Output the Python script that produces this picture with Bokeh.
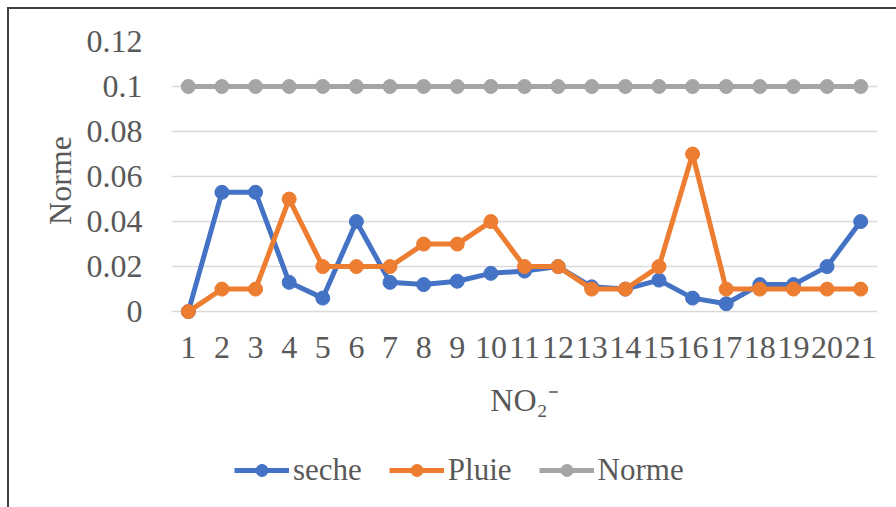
from bokeh.plotting import figure
from bokeh.layouts import column
from bokeh.models import Range1d, FixedTicker, Legend, LegendItem
from bokeh.embed import file_html
from bokeh.resources import INLINE

# Sampling points 1..21
points = list(range(1, 22))
tick_labels = [str(i) for i in points]

# NO2- concentrations
seche = [0.0, 0.053, 0.053, 0.013, 0.006, 0.040, 0.013, 0.012, 0.0135, 0.017, 0.018,
         0.020, 0.011, 0.010, 0.014, 0.006, 0.0035, 0.012, 0.012, 0.020, 0.040]
pluie = [0.0, 0.01, 0.01, 0.05, 0.02, 0.02, 0.02, 0.03, 0.03, 0.04, 0.02,
         0.02, 0.01, 0.01, 0.02, 0.07, 0.01, 0.01, 0.01, 0.01, 0.01]
norme = [0.1] * 21

y_ticks = [0, 0.02, 0.04, 0.06, 0.08, 0.1, 0.12]
y_tick_labels = ["0", "0.02", "0.04", "0.06", "0.08", "0.1", "0.12"]

FONT = "'Liberation Serif', 'Times New Roman', serif"
TXT = "#595959"

series = [("seche", seche, "#4472C4"), ("Pluie", pluie, "#ED7D31"), ("Norme", norme, "#A5A5A5")]

# main chart; small pad below zero so markers at 0 are not cut by the frame
p = figure(width=887, height=425, output_backend="svg", toolbar_location=None,
           x_range=Range1d(0.5, 21.5), y_range=Range1d(-0.0035, 0.12),
           min_border_left=162, min_border_right=19, min_border_top=32,
           min_border_bottom=115)
p.outline_line_color = None
p.background_fill_color = "white"
p.border_fill_color = "white"

p.xgrid.grid_line_color = None
p.ygrid.grid_line_color = "#d9d9d9"
p.ygrid.grid_line_width = 1.5

p.yaxis.ticker = FixedTicker(ticks=y_ticks)
p.yaxis.major_label_overrides = {t: l for t, l in zip(y_ticks, y_tick_labels)}
p.xaxis.ticker = FixedTicker(ticks=points)
p.xaxis.major_label_overrides = {i: l for i, l in zip(points, tick_labels)}

for ax in (p.xaxis[0], p.yaxis[0]):
    ax.axis_line_color = None
    ax.major_tick_line_color = None
    ax.minor_tick_line_color = None
    ax.major_label_text_font = FONT
    ax.major_label_text_font_size = "32px"
    ax.major_label_text_color = TXT
    ax.axis_label_text_font = FONT
    ax.axis_label_text_font_size = "32px"
    ax.axis_label_text_font_style = "normal"
    ax.axis_label_text_color = TXT

p.yaxis.major_label_standoff = 23
p.yaxis.axis_label = "Norme"
p.yaxis.axis_label_standoff = 6
p.xaxis.major_label_standoff = 11
p.xaxis.axis_label = "NO₂⁻"
p.xaxis.axis_label_standoff = 21

for name, vals, col in series:
    p.line(points, vals, line_color=col, line_width=5)
    p.scatter(points, vals, size=14, fill_color=col, line_color=col)

# legend strip under the chart; its renderers sit outside the visible range
lg = figure(width=887, height=73, output_backend="svg", toolbar_location=None,
            x_range=Range1d(100, 101), y_range=Range1d(100, 101),
            min_border=0, x_axis_location=None, y_axis_location=None)
lg.outline_line_color = None
lg.grid.grid_line_color = None
lg.background_fill_color = "white"
lg.border_fill_color = "white"

items = []
for name, vals, col in series:
    ln = lg.line(points, vals, line_color=col, line_width=5)
    mk = lg.scatter(points, vals, size=14, fill_color=col, line_color=col)
    items.append(LegendItem(label=name, renderers=[ln, mk]))

legend = Legend(items=items, orientation="horizontal", location=(63, 19))
legend.label_text_font = FONT
legend.label_text_font_size = "31px"
legend.label_text_color = TXT
legend.glyph_width = 55
legend.glyph_height = 30
legend.label_height = 30
legend.label_standoff = 4
legend.spacing = 27
legend.padding = 0
legend.margin = 0
legend.border_line_color = None
legend.background_fill_alpha = 0
lg.add_layout(legend, "center")

page = column(p, lg, spacing=0,
              styles={"margin-left": "7px", "margin-top": "7px",
                      "border-top": "2px solid #404040", "border-left": "2px solid #404040"})

open("out.html", "w").write(file_html(page, INLINE))
